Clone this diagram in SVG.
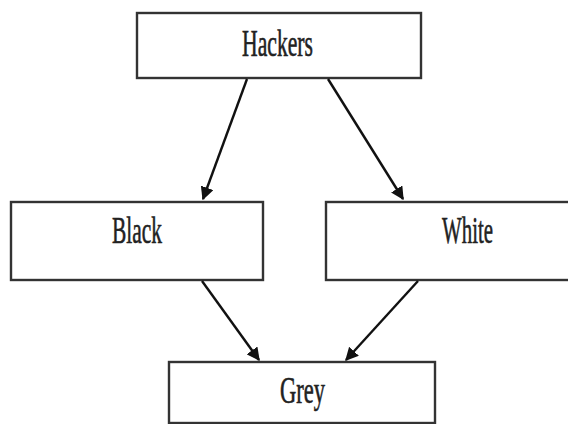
<svg xmlns="http://www.w3.org/2000/svg" width="568" height="424" viewBox="0 0 568 424">
<style>
.box{fill:#fff;stroke:#333;stroke-width:2.4}
.lbl{font-family:"Liberation Serif","Times New Roman",serif;font-size:37px;fill:#222;stroke:#222;stroke-width:0.6}
.edge{stroke:#111;stroke-width:2.4;fill:none}
</style>
<defs>
<marker id="ah" viewBox="0 0 10 10" refX="9" refY="5" markerWidth="5.5" markerHeight="5.5" orient="auto" markerUnits="strokeWidth">
<path d="M0,0 L10,5 L0,10 z" fill="#111"/>
</marker>
</defs>
<rect width="568" height="424" fill="#fff"/>
<g id="hackers">
<rect class="box" x="137" y="13" width="284" height="65"/>
<text class="lbl" x="242" y="56" textLength="71" lengthAdjust="spacingAndGlyphs">Hackers</text>
</g>
<g id="black">
<rect class="box" x="11" y="202" width="252" height="78"/>
<text class="lbl" x="112" y="243" textLength="50" lengthAdjust="spacingAndGlyphs">Black</text>
</g>
<g id="white">
<rect class="box" x="326" y="202" width="250" height="78"/>
<text class="lbl" x="442" y="243" textLength="51" lengthAdjust="spacingAndGlyphs">White</text>
</g>
<g id="grey">
<rect class="box" x="169" y="362" width="266" height="61"/>
<text class="lbl" x="280" y="403" textLength="45" lengthAdjust="spacingAndGlyphs">Grey</text>
</g>
<g id="connectors">
<line class="edge" x1="247" y1="79" x2="203" y2="199" marker-end="url(#ah)"/>
<line class="edge" x1="328" y1="79" x2="403" y2="199" marker-end="url(#ah)"/>
<line class="edge" x1="202" y1="281" x2="259" y2="360" marker-end="url(#ah)"/>
<line class="edge" x1="418" y1="281" x2="346" y2="360" marker-end="url(#ah)"/>
</g>
</svg>
